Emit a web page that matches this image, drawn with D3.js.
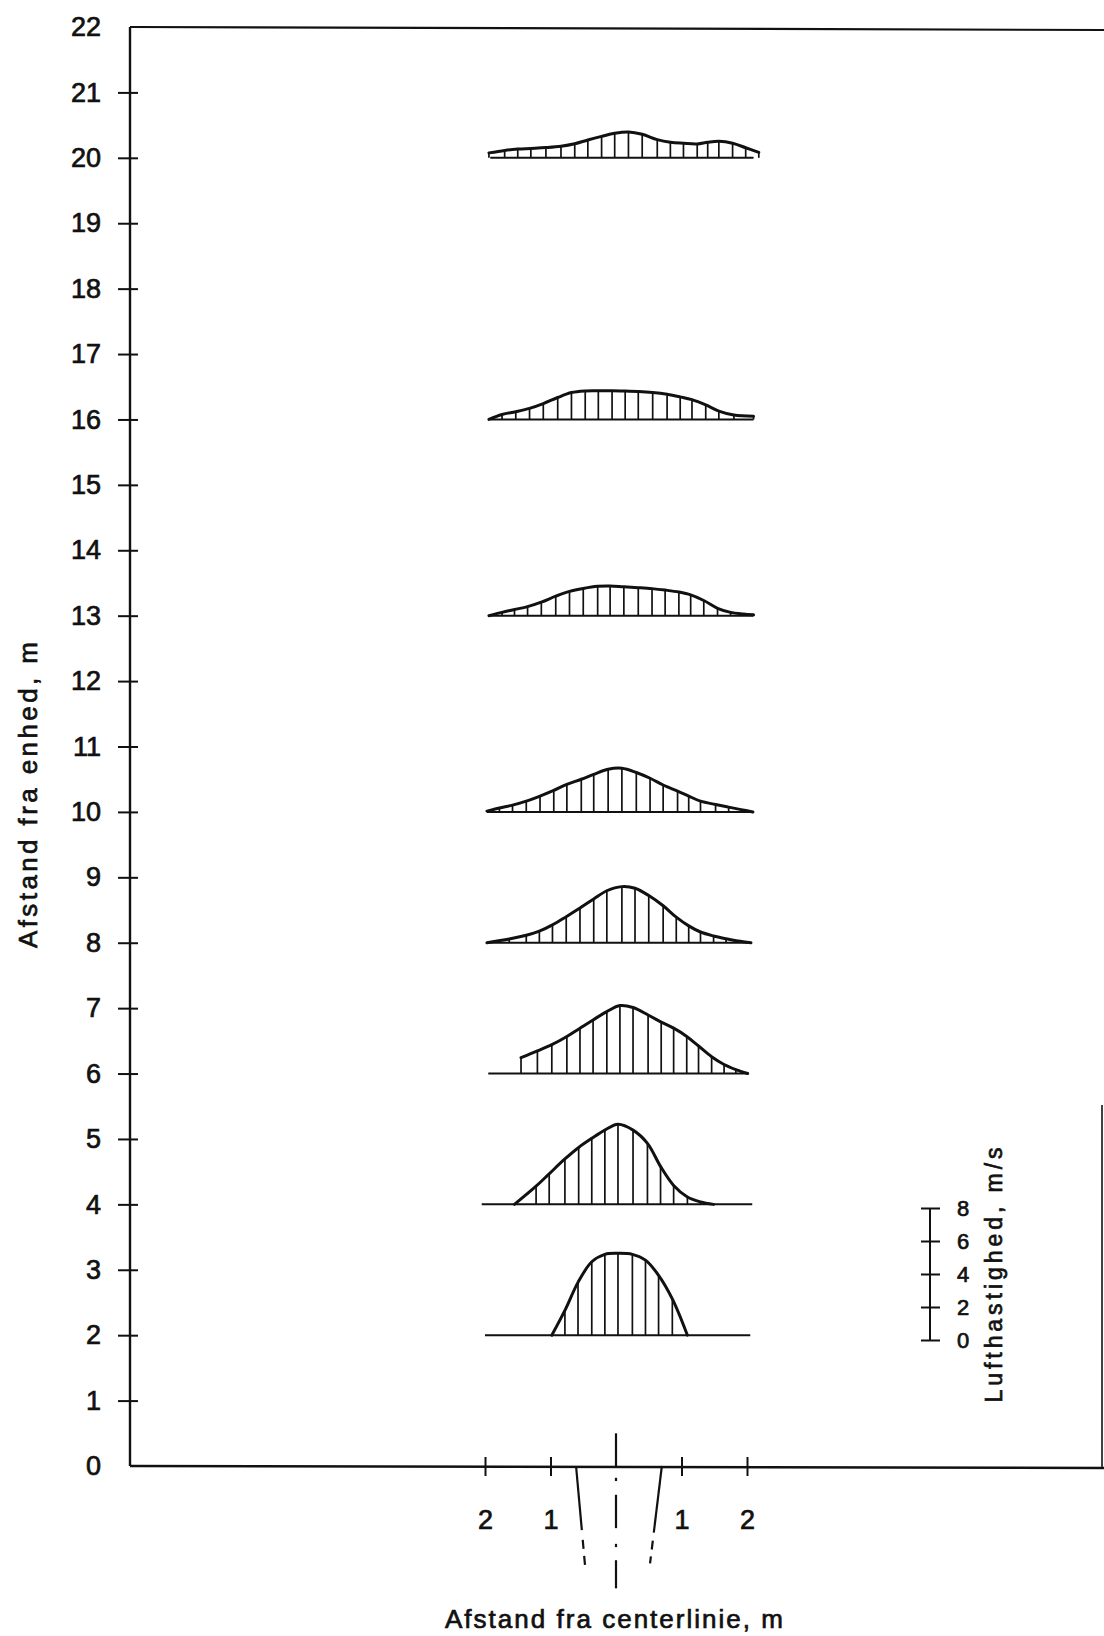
<!DOCTYPE html>
<html><head><meta charset="utf-8">
<script src="https://cdn.jsdelivr.net/npm/d3@7"></script>
<style>
body{margin:0;background:#fff}
svg{display:block}
text{font-family:"Liberation Sans",Arial,sans-serif;fill:#111;stroke:#111;stroke-width:0.7px}
</style>
</head><body><script>
// ---- data ----
const yTicks = d3.range(0, 23);
const xTicks = [-2, -1, 1, 2];
const speedTicks = [0, 2, 4, 6, 8];
const profileDistances = [2, 4, 6, 8, 10, 13, 16, 20];
// [distance from centre line (m), air velocity (m/s)]
const profile2 = [[-0.98,0],[-0.78,1.5],[-0.58,3.2],[-0.37,4.45],[-0.17,4.9],[0.03,4.96],[0.25,4.9],[0.45,4.55],[0.65,3.63],[0.86,2.2],[1.09,0]];
const profile4 = [[-1.55,0],[-1.22,1.1],[-1.02,1.85],[-0.78,2.75],[-0.57,3.45],[-0.37,4.0],[-0.17,4.5],[0.03,4.85],[0.26,4.5],[0.48,3.7],[0.68,2.3],[0.88,1.15],[1.09,0.45],[1.29,0.15],[1.49,0]];
const profile6 = [[-1.45,0.96],[-1.2,1.37],[-0.98,1.75],[-0.75,2.25],[-0.55,2.75],[-0.35,3.25],[-0.14,3.75],[0.06,4.12],[0.26,4.0],[0.49,3.55],[0.69,3.12],[0.88,2.75],[1.08,2.25],[1.26,1.67],[1.46,1.02],[1.65,0.55],[1.83,0.24],[2.01,0]];
const profile8 = [[-1.97,0],[-1.63,0.22],[-1.37,0.45],[-1.17,0.7],[-0.97,1.08],[-0.76,1.58],[-0.55,2.1],[-0.34,2.65],[-0.14,3.15],[0.09,3.4],[0.29,3.3],[0.5,2.86],[0.72,2.24],[0.92,1.55],[1.11,1.02],[1.29,0.65],[1.49,0.41],[1.68,0.24],[1.86,0.1],[2.06,0]];
const profile10 = [[-1.97,0.05],[-1.78,0.24],[-1.58,0.41],[-1.37,0.65],[-1.16,0.96],[-0.95,1.3],[-0.75,1.67],[-0.53,1.98],[-0.34,2.28],[-0.12,2.59],[0.09,2.65],[0.31,2.39],[0.52,2.04],[0.72,1.63],[0.94,1.26],[1.11,0.96],[1.29,0.65],[1.52,0.45],[1.72,0.29],[1.91,0.14],[2.09,0]];
const profile13 = [[-1.94,0],[-1.74,0.2],[-1.55,0.37],[-1.35,0.55],[-1.14,0.82],[-0.92,1.18],[-0.71,1.47],[-0.5,1.65],[-0.28,1.78],[-0.09,1.8],[0.12,1.75],[0.34,1.7],[0.55,1.64],[0.75,1.55],[0.96,1.43],[1.14,1.26],[1.34,0.92],[1.55,0.45],[1.75,0.2],[1.94,0.1],[2.1,0.05]];
const profile16 = [[-1.94,0],[-1.74,0.3],[-1.53,0.47],[-1.32,0.67],[-1.11,0.96],[-0.89,1.33],[-0.68,1.63],[-0.47,1.73],[-0.27,1.74],[-0.06,1.74],[0.14,1.72],[0.34,1.7],[0.56,1.64],[0.78,1.53],[0.98,1.37],[1.16,1.2],[1.37,0.88],[1.57,0.51],[1.8,0.27],[2.1,0.2]];
const profile20 = [[-1.94,0.3],[-1.7,0.45],[-1.5,0.53],[-1.3,0.57],[-1.07,0.62],[-0.84,0.7],[-0.63,0.85],[-0.43,1.08],[-0.22,1.3],[-0.02,1.49],[0.19,1.57],[0.4,1.43],[0.63,1.1],[0.83,0.94],[1.03,0.88],[1.24,0.84],[1.4,0.94],[1.57,1.0],[1.78,0.88],[1.98,0.61],[2.18,0.33]];
const profiles = [profile2, profile4, profile6, profile8, profile10, profile13, profile16, profile20];
const baselineFrom = [-2.0, -2.05, -1.95, -1.95, -1.97, -1.92, -1.92, -1.92];
const baselineTo = [2.05, 2.08, 2.02, 2.05, 2.09, 2.1, 2.1, 2.1];
// nozzle edges: [x at axis, x at lower end, lower end depth, solid end, dashed start]
const nozzleEdges = [[-0.61, -0.47, -1.55, -0.98, -1.13], [0.70, 0.52, -1.49, -1.02, -1.14]];
const centreDashes = [[0.5, 0], [-0.18, -0.23], [-0.44, -0.95], [-1.19, -1.24], [-1.44, -1.87]];

const yTitle = "Afstand fra enhed, m";
const xTitle = "Afstand fra centerlinie, m";
const speedTitle = "Lufthastighed, m/s";

// ---- drawing ----
const W = 1104, H = 1636;
const svg = d3.select("body").append("svg").attr("width", W).attr("height", H);
svg.append("rect").attr("width", W).attr("height", H).attr("fill", "#fff");

const y = d3.scaleLinear().domain([0, 22]).range([1466, 27]);
const x = d3.scaleLinear().domain([-2, 2]).range([485, 747]);
const v = d3.scaleLinear().domain([0, 8]).range([0, 132]);
const axisX = 130;
const ink = "#111";

// frame
const frame = svg.append("g").attr("stroke", ink).attr("fill", "none");
frame.append("line").attr("x1", axisX).attr("x2", W).attr("y1", y(22)).attr("y2", y(22) + 3).attr("stroke-width", 2.2);
frame.append("line").attr("x1", axisX).attr("x2", axisX).attr("y1", y(22)).attr("y2", y(0)).attr("stroke-width", 2.4);
frame.append("line").attr("x1", axisX).attr("x2", W).attr("y1", y(0)).attr("y2", y(0) + 2).attr("stroke-width", 2.4);
frame.append("line").attr("x1", 1102).attr("x2", 1102).attr("y1", 1105).attr("y2", y(0) + 2).attr("stroke-width", 1.6);

// y axis
const gy = svg.append("g").attr("transform", `translate(${axisX},0)`)
  .call(d3.axisLeft(y).tickValues(yTicks).tickSize(12).tickPadding(17));
gy.select(".domain").remove();
gy.selectAll(".tick line").attr("x1", 8).attr("stroke", ink).attr("stroke-width", 2)
  .filter(d => d === 0 || d === 22).remove();
gy.selectAll(".tick text").attr("font-size", 27).attr("font-family", null).attr("fill", ink);

// x axis
const gx = svg.append("g").attr("transform", `translate(0,${y(0)})`)
  .call(d3.axisBottom(x).tickValues(xTicks).tickSize(10).tickPadding(34).tickFormat(d => Math.abs(d)));
gx.select(".domain").remove();
gx.selectAll(".tick line").attr("y1", -9).attr("stroke", ink).attr("stroke-width", 2);
gx.selectAll(".tick text").attr("font-size", 27).attr("font-family", null).attr("fill", ink);

// centre line and nozzle edges
const under = svg.append("g").attr("stroke", ink).attr("fill", "none").attr("stroke-width", 2.2);
under.selectAll("line.c").data(centreDashes).join("line")
  .attr("x1", x(0)).attr("x2", x(0)).attr("y1", d => y(d[0])).attr("y2", d => y(d[1]));
nozzleEdges.forEach(e => {
  const at = t => x(e[0] + (e[1] - e[0]) * (t / e[2]));
  under.append("line").attr("x1", at(0)).attr("y1", y(0)).attr("x2", at(e[3])).attr("y2", y(e[3]));
  under.append("line").attr("x1", at(e[4])).attr("y1", y(e[4])).attr("x2", at(e[2])).attr("y2", y(e[2]))
    .attr("stroke-dasharray", "9,7");
});

// profiles
profiles.forEach((pts, i) => {
  const by = y(profileDistances[i]);
  const g = svg.append("g").attr("stroke", ink).attr("fill", "none");
  g.append("line").attr("x1", x(baselineFrom[i])).attr("x2", x(baselineTo[i]))
    .attr("y1", by).attr("y2", by).attr("stroke-width", 2);
  g.selectAll("line.h").data(pts.filter(p => p[1] > 0)).join("line").attr("class", "h")
    .attr("x1", p => x(p[0])).attr("x2", p => x(p[0]))
    .attr("y1", by).attr("y2", p => by - v(p[1])).attr("stroke-width", 1.7);
  g.append("path").datum(pts)
    .attr("d", d3.line().x(p => x(p[0])).y(p => by - v(p[1])).curve(d3.curveCatmullRom.alpha(0.5)))
    .attr("stroke-width", 3).attr("stroke-linejoin", "round").attr("stroke-linecap", "round");
});

// speed scale legend
const vL = d3.scaleLinear().domain([0, 8]).range([1340, 1340 - v(8)]);
const gl = svg.append("g").attr("transform", "translate(930,0)")
  .call(d3.axisRight(vL).tickValues(speedTicks).tickSize(10).tickPadding(17));
gl.select(".domain").attr("d", `M0,${vL(0)}V${vL(8)}`).attr("stroke", ink).attr("stroke-width", 2);
gl.selectAll(".tick line").attr("x1", -9).attr("stroke", ink).attr("stroke-width", 2);
gl.selectAll(".tick text").attr("font-size", 22).attr("font-family", null).attr("fill", ink);

// titles
svg.append("text").attr("transform", "translate(37,795) rotate(-90)")
  .attr("text-anchor", "middle").attr("font-size", 26)
  .attr("textLength", 306).attr("lengthAdjust", "spacing").text(yTitle);
svg.append("text").attr("x", 614).attr("y", 1628)
  .attr("text-anchor", "middle").attr("font-size", 26)
  .attr("textLength", 338).attr("lengthAdjust", "spacing").text(xTitle);
svg.append("text").attr("transform", "translate(1002,1275) rotate(-90)")
  .attr("text-anchor", "middle").attr("font-size", 23)
  .attr("textLength", 255).attr("lengthAdjust", "spacing").text(speedTitle);
</script></body></html>
